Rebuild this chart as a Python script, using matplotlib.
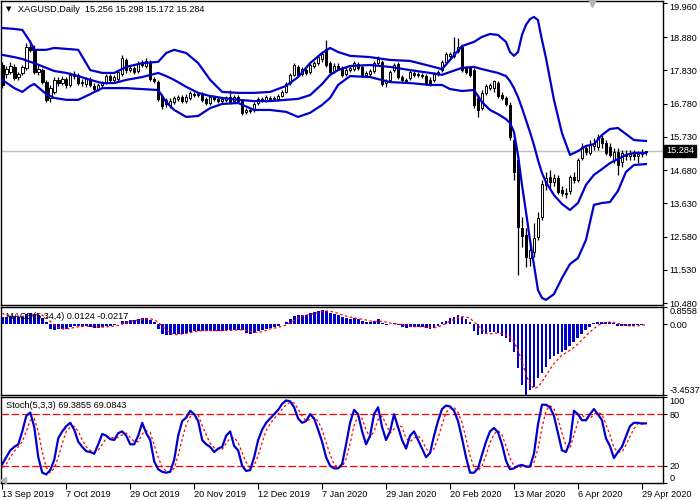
import numpy as np
import matplotlib
matplotlib.use("Agg")
import matplotlib.pyplot as plt
import matplotlib.transforms as mtransforms

# XAGUSD daily bars, 13 Sep 2019 .. 30 Apr 2020
opens = [18.00, 17.72, 17.78, 17.94, 17.62, 17.75, 17.91, 18.57, 18.51, 17.78,
         17.84, 17.46, 16.96, 17.15, 17.53, 17.43, 17.56, 17.37, 17.65, 17.69,
         17.43, 17.40, 17.56, 17.34, 17.24, 17.37, 17.46, 17.65, 17.53, 17.56,
         17.72, 18.16, 17.84, 17.91, 17.81, 18.06, 17.97, 18.06, 17.56, 17.46,
         17.02, 16.77, 16.74, 16.83, 16.93, 16.99, 16.86, 16.96, 17.08, 17.05,
         17.08, 16.93, 16.80, 16.99, 16.93, 16.86, 16.90, 16.99, 16.86, 16.99,
         16.86, 16.52, 16.58, 16.58, 16.80, 16.93, 16.90, 16.96, 16.93, 16.93,
         17.02, 17.15, 17.43, 17.69, 17.94, 17.72, 17.84, 17.78, 17.97, 18.06,
         18.19, 18.51, 18.06, 17.81, 17.97, 17.91, 17.72, 17.84, 17.87, 18.03,
         17.94, 17.69, 17.72, 17.81, 18.06, 18.10, 17.43, 17.53, 17.84, 18.03,
         17.62, 17.53, 17.59, 17.75, 17.69, 17.69, 17.65, 17.53, 17.53, 17.72,
         17.84, 18.10, 18.29, 18.29, 18.44, 18.57, 17.91, 17.91, 17.84, 16.96,
         16.64, 17.12, 17.27, 17.27, 17.43, 17.05, 16.96, 16.74, 15.63, 15.00,
         12.85, 12.63, 11.90, 12.09, 12.57, 13.20, 14.21, 14.46, 14.30, 14.43,
         14.05, 13.96, 14.02, 14.46, 14.37, 15.06, 15.38, 15.22, 15.44, 15.41,
         15.69, 15.54, 15.41, 15.00, 15.25, 14.94, 15.19, 15.13, 15.19, 15.13,
         15.19, 15.256]
highs = [18.10, 17.97, 18.10, 18.03, 17.78, 18.00, 18.70, 18.79, 18.63, 18.00,
         17.91, 17.53, 17.37, 17.62, 17.62, 17.65, 17.62, 17.78, 17.81, 17.75,
         17.56, 17.62, 17.62, 17.43, 17.43, 17.50, 17.72, 17.72, 17.69, 17.84,
         18.32, 18.22, 17.97, 17.97, 18.13, 18.16, 18.22, 18.16, 17.62, 17.53,
         17.08, 16.96, 16.96, 17.02, 17.05, 17.05, 17.08, 17.18, 17.15, 17.15,
         17.15, 16.99, 17.02, 17.05, 16.99, 16.99, 17.02, 17.21, 17.05, 17.05,
         16.93, 16.64, 16.64, 16.83, 16.99, 16.99, 17.05, 17.02, 17.02, 17.08,
         17.21, 17.46, 17.75, 18.06, 18.00, 17.94, 17.91, 18.06, 18.13, 18.32,
         18.41, 18.79, 18.13, 18.06, 18.06, 17.97, 17.94, 17.97, 18.13, 18.10,
         18.00, 17.81, 17.87, 18.13, 18.29, 18.16, 17.56, 17.84, 18.06, 18.10,
         17.69, 17.59, 17.84, 17.81, 17.78, 17.75, 17.72, 17.62, 17.78, 17.84,
         18.16, 18.41, 18.41, 18.89, 18.85, 18.63, 17.97, 17.97, 17.91, 17.05,
         17.21, 17.40, 17.43, 17.53, 17.50, 17.15, 17.02, 16.83, 15.82, 15.13,
         13.20, 12.85, 12.47, 13.01, 13.36, 14.37, 14.62, 14.68, 14.56, 14.52,
         14.18, 14.11, 14.52, 14.62, 15.06, 15.54, 15.47, 15.63, 15.69, 15.82,
         15.79, 15.63, 15.54, 15.38, 15.38, 15.31, 15.31, 15.31, 15.31, 15.28,
         15.34, 15.298]
lows = [17.27, 17.59, 17.72, 17.53, 17.53, 17.69, 17.84, 18.41, 17.72, 17.69,
        17.40, 16.83, 16.83, 17.08, 17.34, 17.37, 17.27, 17.31, 17.56, 17.37,
        17.34, 17.31, 17.31, 17.18, 17.18, 17.27, 17.40, 17.46, 17.46, 17.50,
        17.65, 17.75, 17.78, 17.72, 17.75, 17.94, 17.91, 17.50, 17.43, 16.86,
        16.61, 16.67, 16.64, 16.77, 16.86, 16.80, 16.80, 16.90, 16.99, 16.99,
        16.83, 16.74, 16.74, 16.86, 16.80, 16.80, 16.83, 16.77, 16.80, 16.80,
        16.42, 16.45, 16.49, 16.52, 16.74, 16.83, 16.83, 16.86, 16.90, 16.86,
        16.99, 17.12, 17.37, 17.65, 17.62, 17.65, 17.69, 17.72, 17.91, 18.00,
        18.10, 17.94, 17.72, 17.75, 17.84, 17.62, 17.65, 17.78, 17.81, 17.84,
        17.62, 17.62, 17.62, 17.75, 18.00, 17.34, 17.31, 17.46, 17.78, 17.56,
        17.46, 17.43, 17.53, 17.62, 17.62, 17.59, 17.37, 17.34, 17.46, 17.65,
        17.78, 18.03, 18.22, 18.22, 18.38, 17.78, 17.72, 17.62, 16.64, 16.36,
        16.58, 17.05, 17.21, 17.15, 16.96, 16.90, 16.71, 15.63, 14.37, 11.36,
        12.25, 11.62, 11.65, 11.93, 12.47, 13.10, 14.05, 14.11, 14.18, 13.92,
        13.86, 13.80, 13.92, 14.27, 14.30, 15.00, 15.16, 15.16, 15.31, 15.31,
        15.38, 15.16, 15.09, 14.90, 14.52, 14.78, 15.00, 15.00, 15.00, 14.90,
        15.09, 15.172]
closes = [17.37, 17.87, 17.97, 17.59, 17.72, 17.94, 18.57, 18.48, 17.78, 17.87,
          17.46, 16.90, 17.27, 17.53, 17.43, 17.56, 17.37, 17.69, 17.72, 17.43,
          17.46, 17.56, 17.37, 17.24, 17.37, 17.43, 17.65, 17.53, 17.62, 17.78,
          18.22, 17.84, 17.91, 17.78, 18.06, 18.00, 18.13, 17.56, 17.50, 16.93,
          16.71, 16.90, 16.86, 16.96, 16.99, 16.86, 16.99, 17.12, 17.05, 17.08,
          16.90, 16.80, 16.99, 16.93, 16.86, 16.93, 16.96, 16.83, 16.99, 16.86,
          16.49, 16.58, 16.55, 16.77, 16.93, 16.90, 16.99, 16.93, 16.96, 17.02,
          17.15, 17.40, 17.69, 18.00, 17.69, 17.87, 17.75, 18.00, 18.06, 18.25,
          18.35, 18.00, 17.78, 17.97, 17.91, 17.69, 17.84, 17.91, 18.06, 17.91,
          17.69, 17.75, 17.81, 18.06, 18.19, 17.40, 17.50, 17.78, 18.00, 17.62,
          17.53, 17.50, 17.78, 17.69, 17.72, 17.65, 17.43, 17.40, 17.72, 17.78,
          18.10, 18.35, 18.35, 18.41, 18.57, 17.84, 17.78, 17.69, 16.74, 16.58,
          17.12, 17.34, 17.37, 17.50, 17.02, 16.96, 16.77, 15.73, 14.62, 12.88,
          12.60, 11.93, 12.16, 12.53, 13.17, 14.24, 14.43, 14.30, 14.43, 13.99,
          13.96, 13.92, 14.46, 14.37, 15.00, 15.41, 15.25, 15.47, 15.54, 15.73,
          15.54, 15.22, 15.16, 15.25, 14.84, 15.22, 15.13, 15.22, 15.13, 15.19,
          15.22, 15.284]

# Bollinger bands (20, 2) read at selected bars
band_idx = [0, 3, 5, 7, 8, 11, 13, 16, 19, 22, 25, 28, 31, 35, 39, 41, 43, 46, 49, 52,
            55, 59, 63, 67, 71, 74, 77, 80, 82, 84, 87, 92, 97, 102, 107, 110, 112, 115, 118, 120,
            122, 124, 126, 127, 128, 129, 130, 131, 132, 133, 134, 135, 136, 138, 140, 142, 144, 146, 148, 150,
            152, 154, 156, 158, 161]
bb_upper = [19.17, 19.14, 19.11, 18.73, 18.48, 18.48, 18.54, 18.51, 18.48, 17.84,
            17.75, 17.75, 17.94, 18.06, 18.10, 18.38, 18.48, 18.38, 18.06, 17.53,
            17.15, 17.12, 17.12, 17.15, 17.34, 17.62, 18.06, 18.38, 18.54, 18.41,
            18.29, 18.25, 18.16, 18.13, 17.97, 17.87, 18.16, 18.60, 18.73, 18.89,
            18.98, 18.95, 18.73, 18.41, 18.29, 18.41, 18.95, 19.27, 19.45, 19.52,
            19.42, 18.79, 18.22, 16.90, 15.85, 15.16, 15.28, 15.44, 15.50, 15.79,
            15.98, 16.01, 15.82, 15.63, 15.60]
bb_mid = [18.32, 18.25, 18.19, 18.10, 18.06, 17.91, 17.81, 17.75, 17.65, 17.53,
          17.43, 17.43, 17.53, 17.62, 17.75, 17.65, 17.53, 17.31, 17.12, 17.02,
          16.96, 16.90, 16.86, 16.86, 16.90, 16.93, 17.05, 17.40, 17.69, 17.84,
          17.97, 18.00, 17.94, 17.84, 17.75, 17.69, 17.78, 17.91, 17.94, 17.87,
          17.81, 17.75, 17.65, 17.49, 17.27, 16.99, 16.64, 16.26, 15.88, 15.47,
          15.00, 14.59, 14.30, 13.89, 13.61, 13.42, 13.64, 14.21, 14.53, 14.71,
          14.90, 15.03, 15.16, 15.22, 15.22]
bb_lower = [17.53, 17.27, 17.15, 17.34, 17.40, 17.08, 16.96, 16.90, 16.90, 17.08,
            17.27, 17.27, 17.27, 17.24, 17.21, 16.83, 16.58, 16.36, 16.39, 16.64,
            16.77, 16.80, 16.58, 16.58, 16.52, 16.36, 16.49, 16.74, 16.96, 17.37,
            17.65, 17.62, 17.46, 17.43, 17.37, 17.37, 17.24, 17.18, 17.21, 16.83,
            16.58, 16.45, 16.29, 16.17, 15.88, 15.16, 14.21, 13.36, 12.47, 11.68,
            10.89, 10.64, 10.58, 10.76, 11.27, 11.71, 11.90, 12.47, 13.58, 13.64,
            13.67, 14.02, 14.62, 14.84, 14.87]

# MACD(5,34,4): histogram and signal
macd_hist = [0.38, 0.38, 0.40, 0.40, 0.38, 0.40, 0.50, 0.55, 0.50, 0.45,
             0.30, 0.10, -0.20, -0.25, -0.22, -0.20, -0.20, -0.12, -0.08, -0.08,
             -0.10, -0.08, -0.10, -0.15, -0.15, -0.12, -0.08, -0.08, -0.05, 0.02,
             0.18, 0.18, 0.20, 0.20, 0.28, 0.30, 0.32, 0.22, 0.10, -0.20,
             -0.45, -0.52, -0.52, -0.48, -0.45, -0.45, -0.42, -0.35, -0.30, -0.30,
             -0.30, -0.32, -0.30, -0.30, -0.30, -0.30, -0.28, -0.28, -0.26, -0.25,
             -0.25, -0.40, -0.45, -0.40, -0.30, -0.25, -0.20, -0.15, -0.12, -0.08,
             0.00, 0.12, 0.28, 0.42, 0.45, 0.48, 0.48, 0.55, 0.60, 0.68,
             0.72, 0.65, 0.55, 0.50, 0.45, 0.38, 0.32, 0.28, 0.30, 0.28,
             0.18, 0.12, 0.10, 0.18, 0.25, 0.05, -0.02, 0.00, 0.08, -0.02,
             -0.10, -0.15, -0.10, -0.10, -0.10, -0.10, -0.18, -0.22, -0.15, -0.08,
             0.11, 0.19, 0.31, 0.39, 0.47, 0.36, 0.27, 0.11, -0.31, -0.52,
             -0.47, -0.47, -0.39, -0.39, -0.42, -0.56, -0.64, -0.86, -1.36, -2.14,
             -2.98, -3.45, -3.23, -3.08, -2.60, -2.39, -2.06, -1.69, -1.56, -1.43,
             -1.33, -1.23, -1.06, -0.86, -0.64, -0.47, -0.27, -0.11, 0.06, 0.14,
             0.14, 0.11, 0.11, 0.06, -0.06, -0.09, -0.09, -0.06, -0.06, -0.03,
             -0.03, 0.0124]
macd_signal = [0.55, 0.45, 0.40, 0.39, 0.39, 0.39, 0.42, 0.46, 0.48, 0.50,
               0.45, 0.35, 0.16, -0.04, -0.14, -0.22, -0.22, -0.19, -0.15, -0.12,
               -0.09, -0.08, -0.09, -0.11, -0.13, -0.13, -0.12, -0.10, -0.08, -0.05,
               0.02, 0.09, 0.14, 0.19, 0.22, 0.25, 0.28, 0.28, 0.23, 0.11,
               -0.08, -0.27, -0.42, -0.50, -0.49, -0.46, -0.44, -0.40, -0.36, -0.32,
               -0.30, -0.30, -0.30, -0.30, -0.30, -0.30, -0.29, -0.29, -0.28, -0.27,
               -0.26, -0.29, -0.33, -0.38, -0.39, -0.35, -0.29, -0.22, -0.18, -0.14,
               -0.09, -0.03, 0.08, 0.20, 0.32, 0.41, 0.46, 0.49, 0.53, 0.58,
               0.64, 0.66, 0.65, 0.60, 0.54, 0.47, 0.41, 0.36, 0.32, 0.29,
               0.26, 0.22, 0.17, 0.15, 0.16, 0.15, 0.12, 0.07, 0.03, 0.02,
               -0.01, -0.05, -0.09, -0.11, -0.11, -0.10, -0.12, -0.15, -0.16, -0.13,
               -0.04, 0.05, 0.16, 0.25, 0.34, 0.38, 0.37, 0.30, 0.13, -0.04,
               -0.25, -0.44, -0.46, -0.43, -0.42, -0.44, -0.50, -0.62, -0.85, -1.25,
               -1.83, -2.45, -2.93, -3.15, -3.05, -2.82, -2.50, -2.20, -1.92, -1.70,
               -1.50, -1.39, -1.26, -1.12, -0.95, -0.76, -0.56, -0.37, -0.20, -0.05,
               0.03, 0.08, 0.12, 0.10, 0.05, 0.00, -0.05, -0.07, -0.07, -0.06,
               -0.04, -0.0217]

# Stochastic(5,3,3): %K and %D
stoch_k = [22, 30, 38, 42, 45, 60, 78, 82, 65, 30,
           12, 10, 15, 27, 52, 60, 66, 70, 62, 48,
           42, 37, 36, 34, 45, 57, 55, 51, 50, 58,
           60, 55, 45, 45, 55, 70, 58, 50, 25, 16,
           13, 12, 13, 27, 55, 72, 76, 84, 80, 72,
           50, 45, 42, 36, 40, 42, 55, 60, 43, 38,
           20, 14, 15, 30, 50, 62, 70, 75, 80, 85,
           92, 96, 95, 88, 75, 70, 72, 80, 75, 62,
           48, 30, 20, 17, 17, 22, 45, 70, 85, 80,
           60, 45, 55, 80, 88, 65, 50, 60, 80, 65,
           50, 40, 55, 60, 50, 40, 30, 35, 55, 72,
           86, 90, 89, 84, 72, 52, 30, 12, 12, 17,
           33, 48, 60, 64, 59, 45, 26, 16, 17, 20,
           21, 19, 19, 34, 68, 91, 91, 88, 78, 58,
           38, 36, 48, 84, 80, 73, 73, 80, 86, 80,
           73, 52, 43, 29, 36, 42, 54, 66, 70, 70,
           69, 69.3855]
stoch_d = [18, 22, 30, 37, 42, 48, 60, 73, 75, 60,
           36, 18, 12, 17, 30, 46, 60, 65, 66, 60,
           50, 42, 38, 36, 38, 45, 52, 54, 52, 53,
           56, 58, 53, 48, 48, 57, 61, 59, 44, 30,
           18, 14, 13, 17, 32, 51, 68, 77, 80, 79,
           67, 56, 46, 41, 39, 39, 46, 52, 53, 47,
           35, 24, 17, 20, 32, 47, 61, 69, 75, 80,
           86, 91, 94, 93, 86, 78, 72, 74, 76, 72,
           62, 47, 33, 22, 18, 19, 28, 46, 67, 78,
           75, 62, 53, 60, 74, 78, 68, 58, 63, 68,
           65, 52, 48, 52, 55, 50, 40, 35, 40, 52,
           68, 82, 87, 88, 82, 70, 52, 32, 18, 14,
           20, 32, 47, 57, 61, 56, 43, 29, 20, 18,
           19, 20, 20, 24, 40, 64, 84, 90, 86, 75,
           58, 44, 40, 56, 71, 79, 75, 75, 80, 82,
           80, 68, 56, 41, 36, 36, 44, 54, 63, 69,
           70, 69.0843]

date_pos = [0, 16, 32, 48, 64, 80, 96, 112, 128, 144, 160]
date_labels = ["13 Sep 2019", "7 Oct 2019", "29 Oct 2019", "20 Nov 2019", "12 Dec 2019",
               "7 Jan 2020", "29 Jan 2020", "20 Feb 2020", "13 Mar 2020", "6 Apr 2020",
               "29 Apr 2020"]
price_ticks = [19.960, 18.880, 17.830, 16.780, 15.730, 14.680, 13.630, 12.580, 11.530, 10.480]
last_price = 15.284

FONT = ["Liberation Sans", "DejaVu Sans"]
FS = 6.6
BLUE = "#0000cd"
RED = "#ff0000"

plt.rcParams["font.family"] = FONT
plt.rcParams["font.size"] = FS

idx = np.arange(len(closes))
o = np.array(opens)
c = np.array(closes)

fig = plt.figure(figsize=(7, 5), dpi=100)
fig.patch.set_facecolor("white")

ax_main = fig.add_axes([0.001, 0.390, 0.946, 0.608])
ax_macd = fig.add_axes([0.001, 0.210, 0.946, 0.176], sharex=ax_main)
ax_st = fig.add_axes([0.001, 0.034, 0.946, 0.172], sharex=ax_main)

for ax in (ax_main, ax_macd, ax_st):
    for s in ax.spines.values():
        s.set_color("black")
        s.set_linewidth(1.0)
    ax.yaxis.tick_right()
    ax.tick_params(axis="y", direction="out", length=3, width=0.8,
                   labelsize=FS, pad=1.5, colors="black")
    ax.tick_params(axis="x", bottom=False, labelbottom=False)

# ---- price panel
ax_main.axhline(last_price, color="#c0c0c0", lw=1, zorder=1)
ax_main.vlines(idx, lows, highs, color="black", lw=0.9, zorder=2)
up = c >= o
body = np.where(np.abs(c - o) < 0.015, 0.015, c - o)
ax_main.bar(idx[up], body[up], bottom=o[up], width=0.62, color="white",
            edgecolor="black", linewidth=0.7, zorder=3)
ax_main.bar(idx[~up], body[~up], bottom=o[~up], width=0.62, color="black",
            edgecolor="black", linewidth=0.7, zorder=3)

for band in (bb_upper, bb_mid, bb_lower):
    ax_main.plot(band_idx, band, color=BLUE, lw=1.6, zorder=4,
                 solid_joinstyle="round")

ax_main.set_xlim(-0.4, 165.25)
ax_main.set_ylim(10.417, 20.023)
ax_main.set_yticks(price_ticks)
ax_main.set_yticklabels(["%.3f" % p for p in price_ticks])
ax_main.yaxis.get_major_ticks()[0].label2.set_va("top")

ax_main.text(5 / 663, 1 - 8 / 304, "\u25bc", transform=ax_main.transAxes,
             fontsize=5, va="center", ha="left", family=["DejaVu Sans"])
ax_main.text(17 / 663, 1 - 8 / 304, "XAGUSD,Daily  15.256 15.298 15.172 15.284",
             transform=ax_main.transAxes, fontsize=FS, va="center", ha="left")
ax_main.plot([592 / 663], [1 - 2 / 304], marker="v", ms=6, color="#b4b4b4",
             transform=ax_main.transAxes, clip_on=False, zorder=6)

trans = mtransforms.blended_transform_factory(ax_main.transAxes, ax_main.transData)
ax_main.text(1.0 + 3 / 663, last_price, "%.3f" % last_price, transform=trans,
             color="white", fontsize=FS, va="center", ha="left",
             bbox=dict(boxstyle="square,pad=0.2", fc="black", ec="black"))

# ---- MACD panel
ax_macd.bar(idx, macd_hist, width=0.73, color=BLUE, linewidth=0,
            antialiased=False, zorder=2)
ax_macd.plot(idx, macd_signal, color=RED, lw=0.9, ls=(0, (2, 2)), zorder=3)
ax_macd.set_ylim(-3.4537, 0.8558)
ax_macd.set_yticks([0.8558, 0.0, -3.4537])
ax_macd.set_yticklabels(["0.8558", "0.00", "-3.4537"])
ticks = ax_macd.yaxis.get_major_ticks()
ticks[0].label2.set_va("top")
ticks[2].label2.set_va("bottom")
ax_macd.text(5 / 663, 1 - 9.5 / 88, "MACD(5,34,4) 0.0124 -0.0217",
             transform=ax_macd.transAxes, fontsize=FS, va="center", ha="left")

# ---- Stochastic panel
ax_st.axhline(80, color=RED, lw=0.9, ls=(0, (6, 2.2)), zorder=1)
ax_st.axhline(20, color=RED, lw=0.9, ls=(0, (6, 2.2)), zorder=1)
ax_st.plot(idx, stoch_k, color=BLUE, lw=1.6, zorder=3, solid_joinstyle="round")
ax_st.plot(idx, stoch_d, color=RED, lw=0.9, ls=(0, (2, 2)), zorder=2)
ax_st.plot([0.004], [0.04], marker="<", ms=4, color="#b4b4b4",
           transform=ax_st.transAxes, zorder=4)
ax_st.set_ylim(0, 100)
ax_st.set_yticks([100, 80, 20, 0])
ax_st.set_yticklabels(["100", "80", "20", "0"])
ticks = ax_st.yaxis.get_major_ticks()
ticks[0].label2.set_va("top")
ticks[3].label2.set_va("bottom")
ax_st.text(5 / 663, 1 - 9 / 86, "Stoch(5,3,3) 69.3855 69.0843",
           transform=ax_st.transAxes, fontsize=FS, va="center", ha="left")

ax_st.set_xticks(date_pos)
ax_st.set_xticklabels(date_labels)
ax_st.tick_params(axis="x", bottom=True, labelbottom=True, direction="out",
                  length=4, width=0.8, pad=1, labelsize=FS)
for lab in ax_st.get_xticklabels():
    lab.set_ha("left")

fig.savefig("out.png", dpi=100, facecolor="white")
